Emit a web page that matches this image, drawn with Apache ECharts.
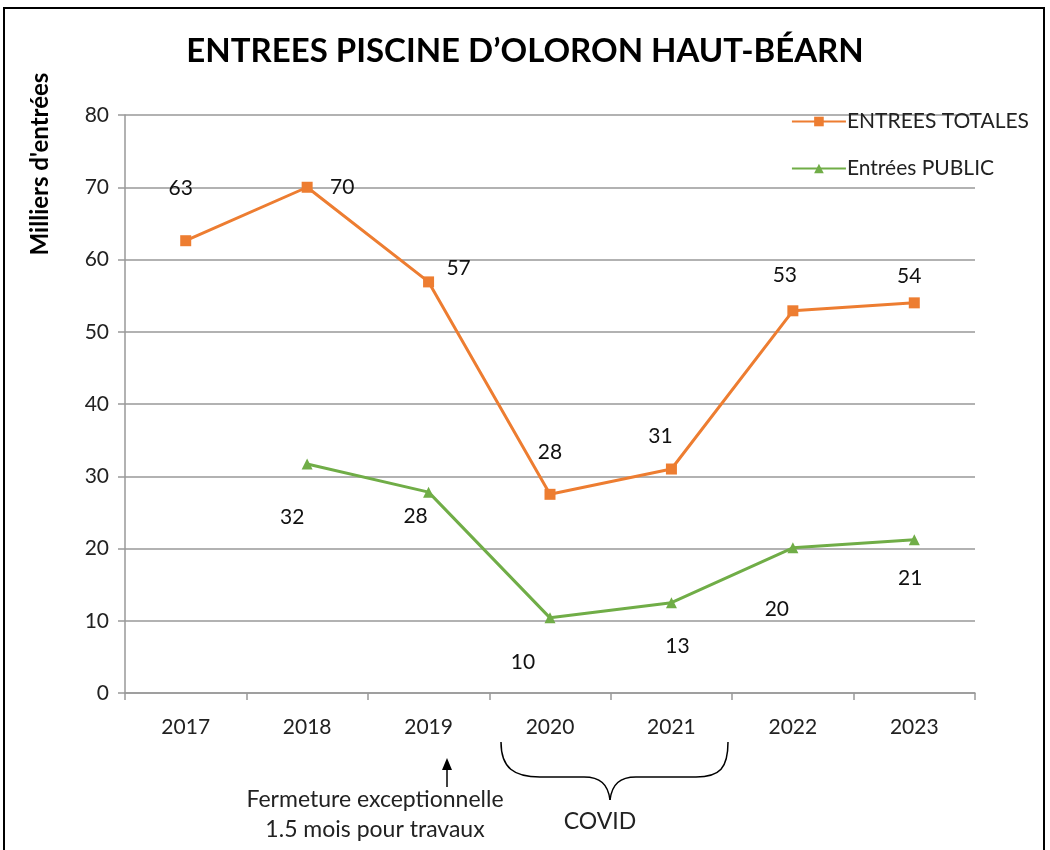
<!DOCTYPE html>
<html>
<head>
<meta charset="utf-8">
<script src="https://cdn.jsdelivr.net/npm/echarts@6/dist/echarts.min.js"></script>
<style>
  html, body { margin: 0; padding: 0; background: #fff; }
  #chart { width: 1050px; height: 850px; }
</style>
</head>
<body>
<div id="chart"></div>
<script>
// data (milliers d'entrées)
var years = ['2017', '2018', '2019', '2020', '2021', '2022', '2023']
var totalEntries = [62.6, 70.0, 56.9, 27.5, 31.0, 52.9, 54.0]
var publicEntries = [null, 31.7, 27.8, 10.4, 12.5, 20.1, 21.2]
var seriesNames = ['ENTREES TOTALES', 'Entrées PUBLIC']

// where each value label sits relative to its point
var totalLabelOffsets = [[-5, -52], [35, 0], [30, -14], [0, -42], [-11, -33], [-8, -36], [-5, -27]]
var publicLabelOffsets = [null, [-15, 53], [-13, 24], [-27, 44], [6, 44], [-16, 61], [-4, 38]]

var font = 'Lato, "Open Sans", sans-serif'

function withLabels(values, offsets) {
  return values.map(function (v, i) {
    if (v === null) return null
    return { value: v, label: { offset: offsets[i] } }
  })
}

function annot(x, y, text) {
  return {
    type: 'text',
    x: x,
    y: y,
    style: {
      text: text,
      fontFamily: font, fontSize: 23, fill: '#222',
      textAlign: 'center', textVerticalAlign: 'middle'
    }
  }
}

function curve(x1, y1, cx1, cy1, cx2, cy2, x2, y2) {
  return {
    type: 'bezierCurve',
    shape: { x1: x1, y1: y1, cpx1: cx1, cpy1: cy1, cpx2: cx2, cpy2: cy2, x2: x2, y2: y2 },
    style: { fill: null, stroke: '#000', lineWidth: 1.5 }
  }
}

function seg(x1, y1, x2, y2) {
  return {
    type: 'line',
    shape: { x1: x1, y1: y1, x2: x2, y2: y2 },
    style: { stroke: '#000', lineWidth: 1.5 }
  }
}

var chart = echarts.init(document.getElementById('chart'))
var option = {
  animation: false,
  backgroundColor: '#fff',
  title: {
    text: 'ENTREES PISCINE D’OLORON HAUT-BÉARN',
    left: 'center',
    top: 30,
    textStyle: {
      fontFamily: font,
      fontWeight: 'bold',
      fontSize: 33,
      color: '#000'
    }
  },
  legend: {
    orient: 'vertical',
    right: 16,
    top: 106,
    itemGap: 26,
    itemWidth: 54,
    itemHeight: 12,
    align: 'left',
    textStyle: { fontFamily: font, fontSize: 21, color: '#222', padding: [0, 0, 0, -4] },
    data: seriesNames
  },
  grid: {
    left: 125,
    right: 75,
    top: 115,
    bottom: 157,
    containLabel: false
  },
  xAxis: {
    type: 'category',
    data: years,
    boundaryGap: true,
    axisLine: { lineStyle: { color: '#999', width: 1.5 } },
    axisTick: { show: true, length: 7, lineStyle: { color: '#999', width: 1.5 } },
    axisLabel: { fontFamily: font, fontSize: 21, color: '#222', margin: 24 }
  },
  yAxis: {
    type: 'value',
    min: 0,
    max: 80,
    interval: 10,
    axisLine: { show: true, lineStyle: { color: '#999', width: 1.5 } },
    axisTick: { show: true, length: 7, lineStyle: { color: '#999', width: 1.5 } },
    axisLabel: { fontFamily: font, fontSize: 21, color: '#222', margin: 16 },
    splitLine: { lineStyle: { color: '#999', width: 1.5 } }
  },
  series: [
    {
      name: seriesNames[0],
      type: 'line',
      symbol: 'rect',
      symbolSize: 11,
      color: '#ED7D31',
      lineStyle: { width: 3, color: '#ED7D31' },
      itemStyle: { color: '#ED7D31' },
      label: {
        show: true,
        position: 'inside',
        fontFamily: font,
        fontSize: 21,
        color: '#111',
        formatter: function (p) { return Math.round(p.value) }
      },
      data: withLabels(totalEntries, totalLabelOffsets)
    },
    {
      name: seriesNames[1],
      type: 'line',
      symbol: 'triangle',
      symbolSize: 11,
      color: '#70AD47',
      lineStyle: { width: 3, color: '#70AD47' },
      itemStyle: { color: '#70AD47' },
      label: {
        show: true,
        position: 'inside',
        fontFamily: font,
        fontSize: 21,
        color: '#111',
        formatter: function (p) { return Math.round(p.value) }
      },
      data: withLabels(publicEntries, publicLabelOffsets)
    }
  ],
  graphic: [
    {
      type: 'rect',
      shape: { x: 4, y: 8, width: 1040, height: 870 },
      style: { fill: null, stroke: '#000', lineWidth: 2 },
      silent: true
    },
    {
      type: 'text',
      x: 40,
      y: 164,
      rotation: Math.PI / 2,
      style: {
        text: 'Milliers d\'entrées',
        fontFamily: font,
        fontWeight: 'bold',
        fontSize: 24,
        fill: '#000',
        textAlign: 'center',
        textVerticalAlign: 'middle'
      }
    },
    // arrow under 2019
    seg(447, 787, 447, 768),
    {
      type: 'polygon',
      shape: { points: [[447, 758], [442, 770], [452, 770]] },
      style: { fill: '#000' }
    },
    annot(375, 800, 'Fermeture exceptionnelle'),
    annot(375, 830, '1.5 mois pour travaux'),
    // brace for covid years
    curve(501, 742, 501, 768, 514, 777, 540, 777),
    seg(540, 777, 584, 777),
    curve(584, 777, 600, 777, 608, 784, 610, 800),
    curve(610, 800, 612, 784, 620, 777, 636, 777),
    seg(636, 777, 696, 777),
    curve(696, 777, 720, 777, 728, 768, 728, 742),
    annot(600, 822, 'COVID')
  ]
}
chart.setOption(option)
</script>
</body>
</html>
